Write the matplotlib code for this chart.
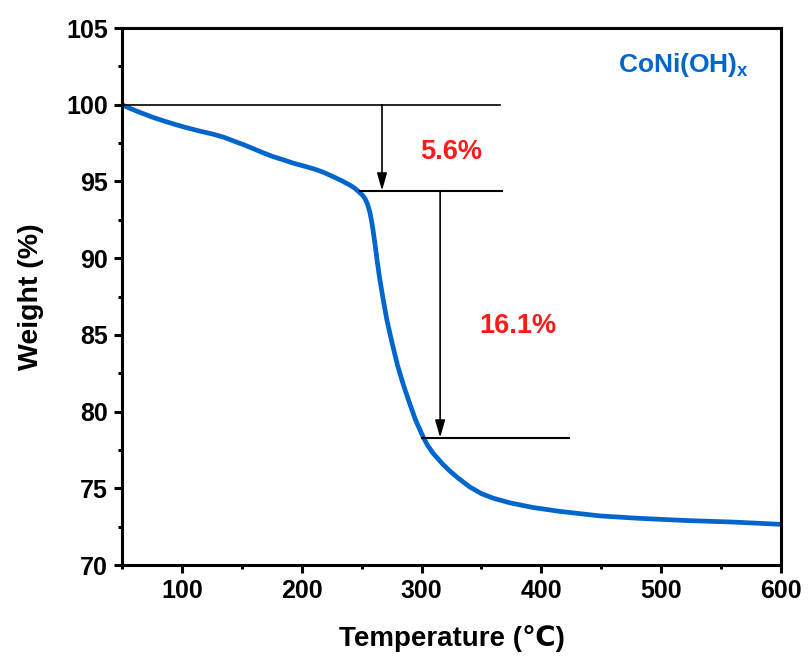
import matplotlib.pyplot as plt
from matplotlib import font_manager
from matplotlib.ticker import MultipleLocator

# drop the condensed Liberation faces so bold text uses the regular width
font_manager.fontManager.ttflist = [f for f in font_manager.fontManager.ttflist
                                    if 'Narrow' not in f.fname]
plt.rcParams['font.family'] = ['Liberation Sans', 'DejaVu Sans']
plt.rcParams['font.weight'] = 'bold'
plt.rcParams['mathtext.fontset'] = 'custom'
plt.rcParams['mathtext.bf'] = 'Liberation Sans:bold'

# TGA curve of CoNi(OH)x
temperature = [50, 57, 65, 75, 85, 95, 104, 115, 126, 135, 143, 152, 160, 168, 176,
               185, 193, 202, 210, 218, 226, 233, 240, 244, 248, 251, 253, 255,
               257, 259, 261, 263, 265, 268, 271, 275, 280, 285, 290, 295, 301,
               305, 310, 318, 324, 330, 340, 350, 360, 374, 393, 415, 449, 480,
               521, 560, 600]
weight = [100.0, 99.75, 99.5, 99.2, 98.94, 98.7, 98.5, 98.28, 98.08, 97.88, 97.64,
          97.38, 97.12, 96.86, 96.62, 96.4, 96.19, 96.0, 95.82, 95.6, 95.32, 95.06,
          94.77, 94.57, 94.3, 94.08, 93.85, 93.5, 92.95, 92.1, 91.0, 89.8, 88.7,
          87.3, 86.0, 84.6, 83.0, 81.7, 80.55, 79.45, 78.4, 77.8, 77.25, 76.55,
          76.1, 75.7, 75.1, 74.65, 74.35, 74.05, 73.75, 73.5, 73.2, 73.05, 72.9,
          72.8, 72.65]

# weight-loss steps: level lines and labels
start_level = 100.0
loss_steps = [5.6, 16.1]
step_labels = ['5.6%', '16.1%']

fig = plt.figure(figsize=(8.08, 6.59), dpi=100)
ax = fig.add_axes([0.151, 0.1426, 0.8156, 0.8149])

ax.plot(temperature, weight, color='#0066CC', lw=3.4, solid_joinstyle='round')

level1 = start_level - loss_steps[0]
level2 = level1 - loss_steps[1]

# horizontal reference lines
ax.plot([50, 365.5], [start_level, start_level], color='black', lw=1.2)
ax.plot([248.5, 367], [level1, level1], color='black', lw=1.5)
ax.plot([300.5, 423], [level2, level2], color='black', lw=1.5)

# arrows marking each step
arrow_style = dict(arrowstyle='-|>,head_length=1.05,head_width=0.3', color='black', lw=1.2,
                   shrinkA=0, shrinkB=0)
ax.annotate('', xy=(267, level1), xytext=(267, start_level), arrowprops=arrow_style)
ax.annotate('', xy=(315.5, level2), xytext=(315.5, level1), arrowprops=arrow_style)

ax.text(325, 96.95, step_labels[0], color='#FF1A1A', fontsize=19.5, fontweight='bold',
        ha='center', va='center')
ax.text(380.5, 85.6, step_labels[1], color='#FF1A1A', fontsize=19.5, fontweight='bold',
        ha='center', va='center')
ax.text(519, 102.6, r'CoNi(OH)$_{\mathbf{x}}$', color='#0066CC', fontsize=19,
        fontweight='bold', ha='center', va='center')

ax.set_xlim(50, 600)
ax.set_ylim(70, 105)
ax.xaxis.set_major_locator(MultipleLocator(100))
ax.xaxis.set_minor_locator(MultipleLocator(50))
ax.yaxis.set_major_locator(MultipleLocator(5))
ax.yaxis.set_minor_locator(MultipleLocator(2.5))
ax.tick_params(which='major', direction='out', length=6, width=2.2, labelsize=18, pad=4)
ax.tick_params(which='minor', direction='out', length=3, width=2.2)
for s in ax.spines.values():
    s.set_linewidth(2.2)

ax.set_xlabel('Temperature (\u2103)', fontsize=20, fontweight='bold', labelpad=16)
ax.set_ylabel('Weight (%)', fontsize=20.5, fontweight='bold', labelpad=16)

fig.savefig('out.png', dpi=100)
